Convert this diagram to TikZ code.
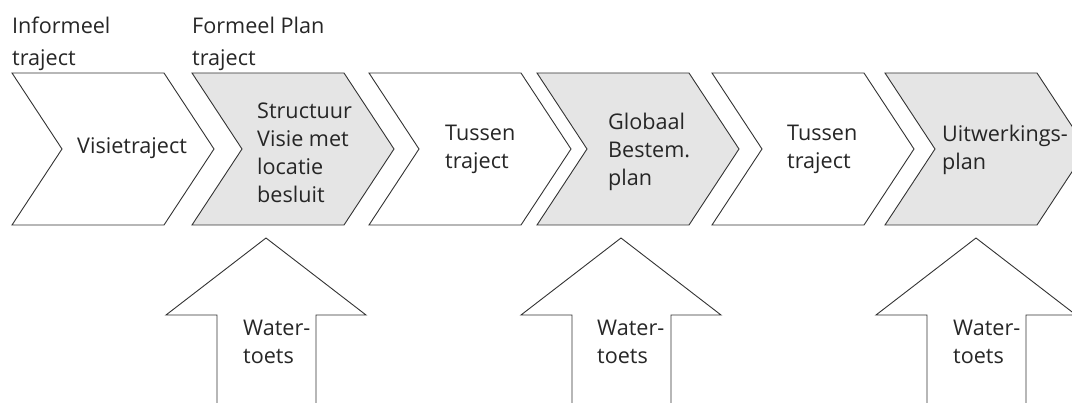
\documentclass[tikz,border=0pt]{standalone}
\usepackage{fontspec}
\setmainfont{Open Sans}

\tikzset{
    stage/.style={draw=black!80, line width=0.9pt, line join=miter},
    label/.style={align=left, anchor=north west, inner sep=0pt, text=black!85, font=\fontsize{21.6}{28}\selectfont},
    toplabel/.style={label, font=\fontsize{21.6}{32}\selectfont},
}

\begin{document}
\begin{tikzpicture}[x=1pt, y=-1pt]

    \useasboundingbox (0,0) rectangle (1072,403);
    \clip (0,0) rectangle (1072,403);

    % Chevrons
    \foreach \x/\f in {12/white, 192/black!10, 369/white, 537/black!10, 712/white, 885/black!10}
        \draw[stage, fill=\f] (\x,73) -- ++(152,0) -- ++(50,76) -- ++(-50,76) -- ++(-152,0) -- ++(50,-76) -- cycle;

    % Up arrows
    \foreach \x in {266, 621, 976}
        \draw[stage, fill=white] (\x,238) -- (\x+100,315) -- (\x+50,315) -- (\x+50,410)
            -- (\x-49,410) -- (\x-49,315) -- (\x-100,315) -- cycle;

    % Nodes
    \node at (12, 17) (informal) [toplabel] {Informeel\\traject};
    \node at (192, 17) (formal) [toplabel] {Formeel Plan\\traject};
    \node at (77, 137) (vision) [label] {Visietraject};
    \node at (257, 103) (structure) [label] {Structuur\\Visie met\\locatie\\besluit};
    \node at (445, 125) (between1) [label] {Tussen\\traject};
    \node at (608, 113) (global) [label] {Globaal\\Bestem.\\plan};
    \node at (787, 125) (between2) [label] {Tussen\\traject};
    \node at (942, 125) (elaboration) [label] {Uitwerkings-\\plan};
    \node at (243, 320) (water1) [label] {Water-\\toets};
    \node at (597, 320) (water2) [label] {Water-\\toets};
    \node at (953, 320) (water3) [label] {Water-\\toets};

\end{tikzpicture}
\end{document}
